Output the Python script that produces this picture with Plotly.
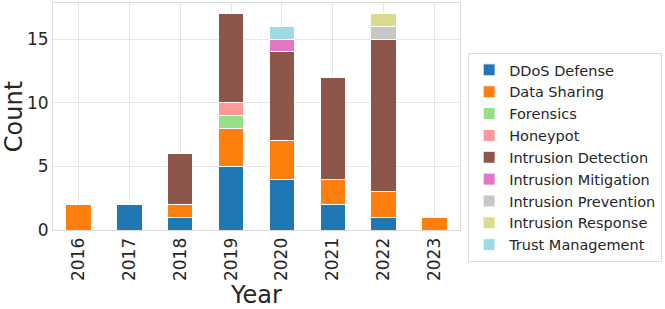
import plotly.graph_objects as go

years = ["2016", "2017", "2018", "2019", "2020", "2021", "2022", "2023"]
ddos_defense = [0, 2, 1, 5, 4, 2, 1, 0]
data_sharing = [2, 0, 1, 3, 3, 2, 2, 1]
forensics = [0, 0, 0, 1, 0, 0, 0, 0]
honeypot = [0, 0, 0, 1, 0, 0, 0, 0]
intrusion_detection = [0, 0, 4, 7, 7, 8, 12, 0]
intrusion_mitigation = [0, 0, 0, 0, 1, 0, 0, 0]
intrusion_prevention = [0, 0, 0, 0, 0, 0, 1, 0]
intrusion_response = [0, 0, 0, 0, 0, 0, 1, 0]
trust_management = [0, 0, 0, 0, 1, 0, 0, 0]

series = [
    ("DDoS Defense", ddos_defense, "#1f77b4"),
    ("Data Sharing", data_sharing, "#ff7f0e"),
    ("Forensics", forensics, "#98df8a"),
    ("Honeypot", honeypot, "#ff9896"),
    ("Intrusion Detection", intrusion_detection, "#8c564b"),
    ("Intrusion Mitigation", intrusion_mitigation, "#e377c2"),
    ("Intrusion Prevention", intrusion_prevention, "#c7c7c7"),
    ("Intrusion Response", intrusion_response, "#dbdb8d"),
    ("Trust Management", trust_management, "#9edae5"),
]

fig = go.Figure()
for name, vals, col in series:
    fig.add_trace(go.Bar(
        x=years, y=vals, name=name, width=0.5,
        marker=dict(color=col, line=dict(color="white", width=1)),
    ))

font = "DejaVu Sans"
fig.update_layout(
    barmode="stack",
    width=665, height=309,
    margin=dict(l=53, r=200, t=3, b=79),
    paper_bgcolor="white", plot_bgcolor="white",
    font=dict(family=font, color="#262626"),
    legend=dict(
        traceorder="normal",
        x=1.02, xanchor="left", y=0.78, yanchor="top",
        bordercolor="#dcdcdc", borderwidth=1,
        font=dict(size=14.5, family=font, color="#262626"),
        tracegroupgap=0, itemwidth=30,
    ),
    xaxis=dict(
        type="category", range=[-0.5, 7.5], automargin=False,
        tickangle=-90, tickfont=dict(size=17),
        showgrid=True, gridcolor="#e5e5e5", gridwidth=1,
        showline=True, linecolor="#dcdcdc", mirror=True,
        ticks="", title=dict(text="Year", font=dict(size=24), standoff=4),
    ),
    yaxis=dict(
        range=[0, 17.85], tickvals=[0, 5, 10, 15], automargin=False,
        tickfont=dict(size=17),
        showgrid=True, gridcolor="#e5e5e5", gridwidth=1,
        showline=True, linecolor="#dcdcdc", mirror=True,
        zeroline=False, ticks="",
        title=dict(text="Count", font=dict(size=24), standoff=6),
    ),
)

fig.write_html("out.html", config={"displayModeBar": False},
               post_script="document.body.style.margin='0';")
